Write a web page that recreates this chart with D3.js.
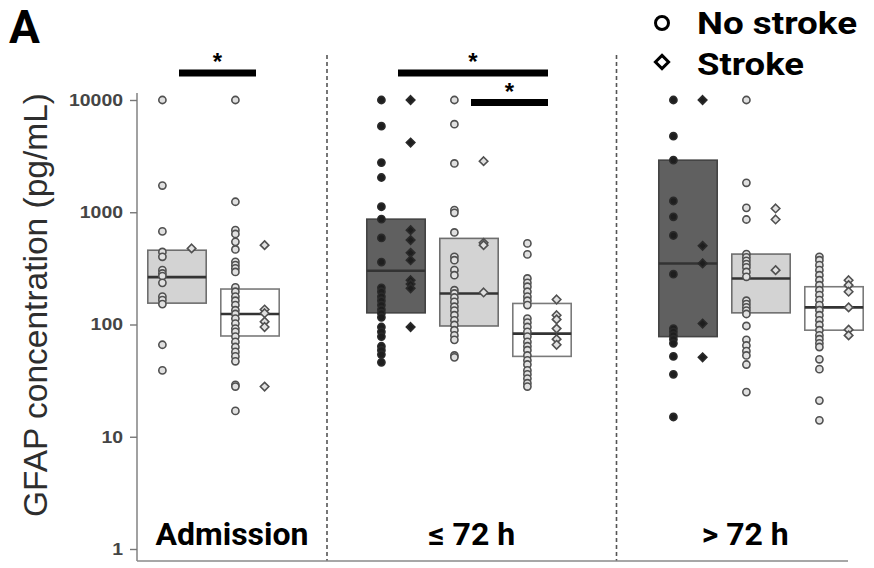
<!DOCTYPE html>
<html>
<head>
<meta charset="utf-8">
<script src="https://cdn.jsdelivr.net/npm/d3@7"></script>
<style>
  html, body { margin: 0; padding: 0; background: #fff; }
  svg { display: block; }
</style>
</head>
<body>
<svg id="chart" width="874" height="568"></svg>
<script>
// ---------------- DATA ----------------
const slots = ["adm-light","adm-white","gap1","early-dark","early-light","early-white","gap2","late-dark","late-light","late-white"];
const groupKeys = ["adm-light","adm-white","early-dark","early-light","early-white","late-dark","late-light","late-white"];
const groupShade = ["light","white","dark","light","white","dark","light","white"];
const boxQ1     = [155,  79, 127,  97,  52,   78, 127,  89];
const boxMedian = [264, 124, 301, 189,  83,  350, 257, 142];
const boxQ3     = [459, 207, 868, 585, 154, 2910, 424, 217];

const noStrokeValues = [
  [10000, 1730, 675, 443, 401, 305, 285, 270, 235, 177, 165, 152, 66, 39],
  [10000, 1240, 693, 640, 545, 466, 362, 338, 316, 294, 214, 196, 177, 163, 149, 134, 124, 113, 102, 92, 86, 78, 70, 63, 57, 52, 47, 29, 28, 17],
  [10000, 5850, 2770, 2040, 1120, 868, 590, 360, 212, 196, 177, 163, 149, 136, 126, 116, 95, 86, 78, 64, 59, 54, 46],
  [10000, 6090, 2720, 1044, 988, 661, 401, 374, 305, 275, 202, 189, 174, 159, 144, 133, 121, 109, 99, 89, 80, 73, 53, 51],
  [528, 421, 257, 235, 217, 196, 177, 163, 149, 113, 104, 95, 86, 78, 70, 64, 59, 53, 48, 44, 39, 36, 33, 30, 28],
  [10000, 4760, 2910, 1260, 911, 621, 281, 92, 86, 80, 74, 68, 52, 36, 15],
  [10000, 1830, 1094, 862, 424, 396, 369, 345, 323, 294, 266, 163, 152, 142, 133, 124, 97, 73, 65, 58, 53, 44, 25],
  [401, 374, 338, 305, 275, 248, 224, 202, 183, 165, 149, 134, 121, 109, 99, 89, 80, 74, 68, 63, 49, 40, 21, 14]
];
const strokeValues = [
  [476],
  [509, 136, 126, 106, 95, 28],
  [10000, 4180, 693, 565, 435, 374, 248, 229, 210, 95],
  [2850, 534, 509, 193],
  [167, 121, 111, 92, 74, 66],
  [10000, 502, 350, 102, 51],
  [1081, 862, 305],
  [248, 224, 196, 142, 90, 80]
];

const panelLabels = ["Admission", "\u2264 72 h", "> 72 h"];
const yTicks = [1, 10, 100, 1000, 10000];
const sigFrom  = ["adm-light", "early-dark", "early-light"];
const sigTo    = ["adm-white", "early-white", "early-white"];
const sigLevel = [0, 0, 1];
const legendLabels = ["No stroke", "Stroke"];

// ---------------- STYLE ----------------
const fills   = {dark: "#606060", light: "#d3d3d3", white: "#ffffff"};
const strokes = {dark: "#444444", light: "#6e6e6e", white: "#7a7a7a"};

const svg = d3.select("#chart");
const W = 874, H = 568;

const y = d3.scaleLog().domain([1, 10000]).range([549, 100]);
const x = d3.scalePoint().domain(slots).range([177, 834]);
const step = x.step();
const boxW = step * 0.8;
const off = step * 0.2;
const axisX = 137;
const baseY = 561;

// dividers between panels
const dividers = [x("gap1") + 4, x("gap2") + 1.5];
svg.selectAll(".divider").data(dividers).enter().append("line")
  .attr("x1", d => d).attr("x2", d => d)
  .attr("y1", 55).attr("y2", baseY)
  .attr("stroke", "#555").attr("stroke-width", 1.6)
  .attr("stroke-dasharray", "4,3");

// axes lines
svg.append("line").attr("x1", axisX).attr("x2", axisX)
  .attr("y1", y(10000) - 7).attr("y2", baseY)
  .attr("stroke", "#8a8a8a").attr("stroke-width", 1.6);
svg.append("line").attr("x1", axisX).attr("x2", 848)
  .attr("y1", baseY).attr("y2", baseY)
  .attr("stroke", "#8a8a8a").attr("stroke-width", 1.6);

const yAxis = d3.axisLeft(y).tickValues(yTicks).tickFormat(d3.format("d"))
  .tickSize(7).tickPadding(7);
const gy = svg.append("g").attr("transform", `translate(${axisX},0)`).call(yAxis);
gy.select(".domain").remove();
gy.selectAll(".tick line").attr("stroke", "#777").attr("stroke-width", 1.4);
gy.selectAll(".tick text")
  .attr("fill", "#454545")
  .style("font-family", "'Liberation Sans', Arial, sans-serif")
  .style("font-size", "17px")
  .style("font-weight", "bold")
  .attr("textLength", d => String(d).length * 10.8)
  .attr("lengthAdjust", "spacingAndGlyphs");

// y label
svg.append("text")
  .attr("transform", "translate(47,305) rotate(-90)")
  .attr("text-anchor", "middle")
  .attr("fill", "#2e2e2e")
  .style("font-family", "'Liberation Sans', Arial, sans-serif")
  .style("font-size", "34px")
  .attr("textLength", 424).attr("lengthAdjust", "spacingAndGlyphs")
  .text("GFAP concentration (pg/mL)");

// boxes
const boxes = svg.selectAll(".box").data(groupKeys).enter().append("g").attr("class", "box");
boxes.append("rect")
  .attr("x", d => x(d) - boxW / 2)
  .attr("width", boxW)
  .attr("y", (d, i) => y(boxQ3[i]))
  .attr("height", (d, i) => y(boxQ1[i]) - y(boxQ3[i]))
  .attr("fill", (d, i) => fills[groupShade[i]])
  .attr("stroke", (d, i) => strokes[groupShade[i]])
  .attr("stroke-width", 1.6);
boxes.append("line")
  .attr("x1", d => x(d) - boxW / 2).attr("x2", d => x(d) + boxW / 2)
  .attr("y1", (d, i) => y(boxMedian[i])).attr("y2", (d, i) => y(boxMedian[i]))
  .attr("stroke", "#333").attr("stroke-width", 2.6);

// points
const circlePts = [], diamondPts = [];
groupKeys.forEach((k, i) => {
  noStrokeValues[i].forEach(v => circlePts.push({k, v, shade: groupShade[i]}));
  strokeValues[i].forEach(v => diamondPts.push({k, v, shade: groupShade[i]}));
});
const ptFill = s => s === "dark" ? "#1e1e1e" : "#e0e0e0";
const ptStroke = s => s === "dark" ? "#2a2a2a" : "#505050";

svg.selectAll(".c").data(circlePts).enter().append("circle")
  .attr("cx", d => x(d.k) - off)
  .attr("cy", d => y(d.v))
  .attr("r", 3.6)
  .attr("fill", d => ptFill(d.shade))
  .attr("stroke", d => ptStroke(d.shade))
  .attr("stroke-width", 1.6);

const diamond = d3.symbol().type(d3.symbolDiamond2).size(46);
svg.selectAll(".d").data(diamondPts).enter().append("path")
  .attr("transform", d => `translate(${x(d.k) + off},${y(d.v)})`)
  .attr("d", diamond)
  .attr("fill", d => ptFill(d.shade))
  .attr("stroke", d => ptStroke(d.shade))
  .attr("stroke-width", 1.6);

// significance bars
const sigY = lvl => 73 + lvl * 29.5;
sigFrom.forEach((a, i) => {
  const x1 = x(a) + 2, x2 = x(sigTo[i]) + 6;
  svg.append("rect").attr("x", x1).attr("width", x2 - x1)
    .attr("y", sigY(sigLevel[i]) - 3.5).attr("height", 7).attr("fill", "#000");
  svg.append("text")
    .attr("x", (x1 + x2) / 2).attr("y", sigY(sigLevel[i]) - 3)
    .attr("text-anchor", "middle")
    .style("font-family", "'Liberation Sans', Arial, sans-serif")
    .style("font-weight", "bold").style("font-size", "24px")
    .text("*");
});

// panel labels
const panelEdges = [axisX, dividers[0], dividers[1], W];
panelLabels.forEach((t, i) => {
  svg.append("text")
    .attr("x", (panelEdges[i] + panelEdges[i + 1]) / 2)
    .attr("y", 545)
    .attr("text-anchor", "middle")
    .style("font-family", "Roboto, 'Liberation Sans', sans-serif")
    .style("font-weight", "bold").style("font-size", "32px")
    .attr("fill", "#000")
    .text(t);
});

// panel tag
svg.append("text").attr("x", 9).attr("y", 43)
  .style("font-family", "Roboto, 'Liberation Sans', sans-serif")
  .style("font-weight", "bold").style("font-size", "46px")
  .text("A");

// legend
const lg = svg.append("g");
lg.append("circle").attr("cx", 662).attr("cy", 23).attr("r", 6.5)
  .attr("fill", "#fff").attr("stroke", "#000").attr("stroke-width", 3);
lg.append("path").attr("transform", "translate(662,62)")
  .attr("d", d3.symbol().type(d3.symbolDiamond2).size(110))
  .attr("fill", "#fff").attr("stroke", "#000").attr("stroke-width", 3);
const legendLens = [160, 107];
legendLabels.forEach((t, i) => {
  lg.append("text").attr("x", 697).attr("y", 34 + i * 41)
    .style("font-family", "Roboto, 'Liberation Sans', sans-serif")
    .style("font-weight", "bold").style("font-size", "32px")
    .attr("textLength", legendLens[i]).attr("lengthAdjust", "spacingAndGlyphs")
    .text(t);
});
</script>
</body>
</html>
